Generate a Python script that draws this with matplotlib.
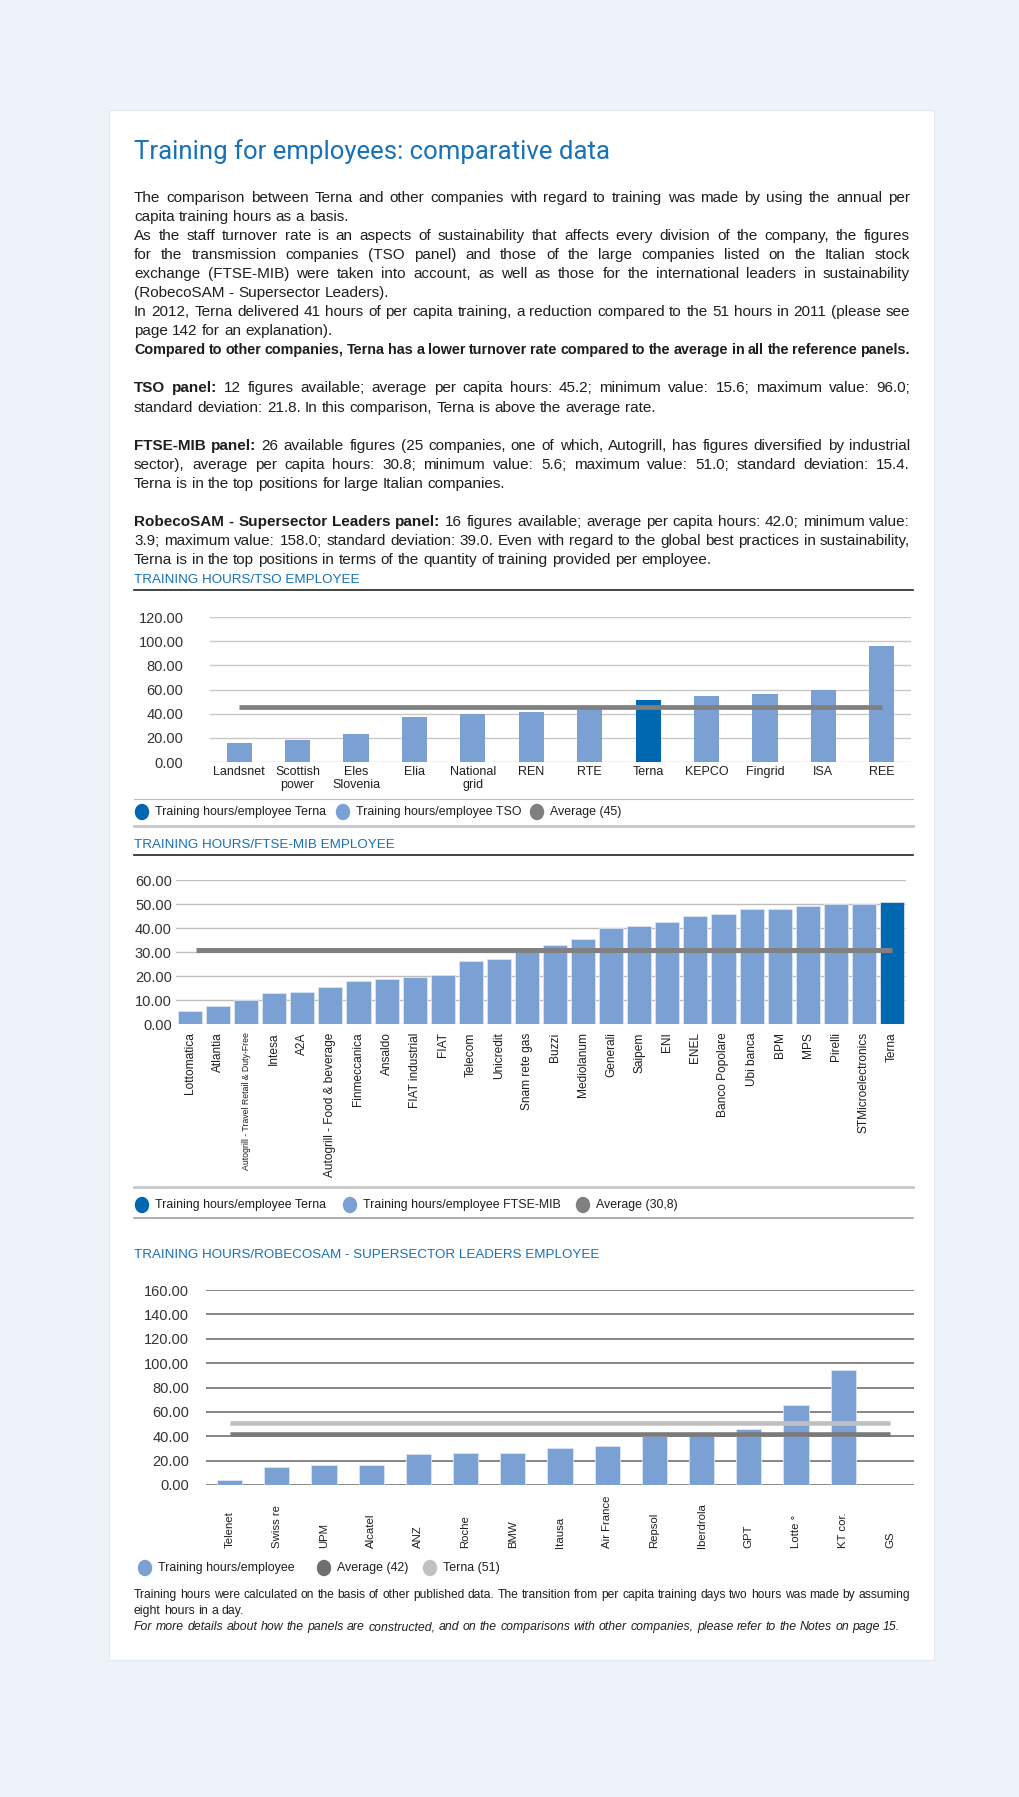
# Training hours per employee - Terna comparative page
import numpy as np
import matplotlib.pyplot as plt
from matplotlib.patches import Rectangle, Ellipse
from matplotlib.lines import Line2D

plt.rcParams['font.family'] = ['Liberation Sans', 'DejaVu Sans']

W, H = 1020, 1797

# ---- data ----
tso_names = ['Landsnet', 'Scottish\npower', 'Eles\nSlovenia', 'Elia', 'National\ngrid', 'REN',
             'RTE', 'Terna', 'KEPCO', 'Fingrid', 'ISA', 'REE']
tso_hours = [15.6, 18.4, 22.8, 37.4, 39.5, 41.5, 45.0, 51.0, 54.4, 56.6, 59.8, 96.0]
tso_avg = 45.2

mib_names = ['Lottomatica', 'Atlantia', 'Autogrill - Travel Retail & Duty-Free', 'Intesa', 'A2A',
             'Autogrill - Food & beverage', 'Finmeccanica', 'Ansaldo', 'FIAT industrial', 'FIAT',
             'Telecom', 'Unicredit', 'Snam rete gas', 'Buzzi', 'Mediolanum', 'Generali', 'Saipem',
             'ENI', 'ENEL', 'Banco Popolare', 'Ubi banca', 'BPM', 'MPS', 'Pirelli',
             'STMicroelectronics', 'Terna']
mib_hours = [5.6, 7.4, 10.0, 12.9, 13.3, 15.3, 17.9, 18.7, 19.7, 20.6, 26.3, 27.0, 30.4, 33.1,
             35.4, 40.2, 41.0, 42.4, 44.8, 45.9, 48.1, 48.1, 49.2, 49.9, 50.2, 51.0]
mib_avg = 30.8

rob_names = ['Telenet', 'Swiss re', 'UPM', 'Alcatel', 'ANZ', 'Roche', 'BMW', 'Itausa',
             'Air France', 'Repsol', 'Iberdrola', 'GPT', 'Lotte °', 'KT cor.', 'GS']
rob_hours = [3.9, 14.4, 16.4, 16.4, 25.2, 26.2, 26.2, 30.4, 32.1, 40.5, 41.0, 46.0, 65.3, 94.1, 0]
rob_avg = 42.0
rob_terna = 51.0

BLUE_T = '#1671b8'
TERNA = '#0067b1'
LIGHT = '#7ba0d4'
GREY = '#808080'
LGREY = '#c0c0c0'
TXT = '#1e1e1e'

fig = plt.figure(figsize=(W / 100, H / 100), dpi=100)
fig.patch.set_facecolor('#eef2f9')
renderer = fig.canvas.get_renderer()


def px(x, y):
    return x / W, 1 - y / H


def rule(y, x0=134, x1=913, color='#222222', lw=1.0):
    fig.add_artist(Line2D([x0 / W, x1 / W], [1 - y / H] * 2, transform=fig.transFigure,
                          color=color, lw=lw))


def text_line(y, parts, size=11.0, justify=False, x0=134, x1=910, color=TXT):
    # parts: list of (text, weight, style); y is the baseline in pixels
    y = round(y)
    words = []
    for txt, weight, style in parts:
        for w in txt.split():
            words.append((w, weight, style))
    while True:
        objs = [fig.text(0, 0, w, fontsize=size, fontweight=wt, fontstyle=st, color=color,
                         va='baseline') for w, wt, st in words]
        widths = [t.get_window_extent(renderer).width for t in objs]
        space = size / 72 * 100 * 0.278
        if justify and len(objs) > 1:
            space = (x1 - x0 - sum(widths)) / (len(objs) - 1)
            if space < 2.6:
                for t in objs:
                    t.remove()
                size *= 0.98
                continue
        break
    x = x0
    for t, wd in zip(objs, widths):
        t.set_position(px(x, y))
        x += wd + space


def legend_item(x, y, color, label, size=8.9):
    fig.add_artist(Ellipse(px(x, y), 13 / W, 15 / H, transform=fig.transFigure, color=color))
    fig.text((x + 13) / W, 1 - y / H, label, fontsize=size, va='center', color=TXT)


def style_axis(ax, grid_color, grid_lw):
    ax.grid(axis='y', color=grid_color, lw=grid_lw, zorder=0)
    ax.set_axisbelow(True)
    for s in ax.spines.values():
        s.set_visible(False)


# ---- card ----
fig.add_artist(Rectangle((109 / W, 1 - 1660 / H), (934 - 109) / W, (1660 - 110) / H,
                         transform=fig.transFigure, facecolor='white', edgecolor='#e2e6ee',
                         lw=0.8, zorder=-5))

fig.text(134 / W, 1 - 152 / H, 'Training for employees: comparative data', fontsize=18.5,
         color=BLUE_T, va='center', family=['Roboto', 'Liberation Sans'])

body = [
    (0, [('The comparison between Terna and other companies with regard to training was made by using the annual per', 'normal', 'normal')], True),
    (1, [('capita training hours as a basis.', 'normal', 'normal')], False),
    (2, [('As the staff turnover rate is an aspects of sustainability that affects every division of the company, the figures', 'normal', 'normal')], True),
    (3, [('for the transmission companies (TSO panel) and those of the large companies listed on the Italian stock', 'normal', 'normal')], True),
    (4, [('exchange (FTSE-MIB) were taken into account, as well as those for the international leaders in sustainability', 'normal', 'normal')], True),
    (5, [('(RobecoSAM - Supersector Leaders).', 'normal', 'normal')], False),
    (6, [('In 2012, Terna delivered 41 hours of per capita training, a reduction compared to the 51 hours in 2011 (please see', 'normal', 'normal')], True),
    (7, [('page 142 for an explanation).', 'normal', 'normal')], False),
    (8, [('Compared to other companies, Terna has a lower turnover rate compared to the average in all the reference panels.', 'bold', 'normal')], True),
    (10, [('TSO panel:', 'bold', 'normal'), ('12 figures available; average per capita hours: 45.2; minimum value: 15.6; maximum value: 96.0;', 'normal', 'normal')], True),
    (11, [('standard deviation: 21.8. In this comparison, Terna is above the average rate.', 'normal', 'normal')], False),
    (13, [('FTSE-MIB panel:', 'bold', 'normal'), ('26 available figures (25 companies, one of which, Autogrill, has figures diversified by industrial', 'normal', 'normal')], True),
    (14, [('sector), average per capita hours: 30.8; minimum value: 5.6; maximum value: 51.0; standard deviation: 15.4.', 'normal', 'normal')], True),
    (15, [('Terna is in the top positions for large Italian companies.', 'normal', 'normal')], False),
    (17, [('RobecoSAM - Supersector Leaders panel:', 'bold', 'normal'), ('16 figures available; average per capita hours: 42.0; minimum value:', 'normal', 'normal')], True),
    (18, [('3.9; maximum value: 158.0; standard deviation: 39.0. Even with regard to the global best practices in sustainability,', 'normal', 'normal')], True),
    (19, [('Terna is in the top positions in terms of the quantity of training provided per employee.', 'normal', 'normal')], False),
]
for slot, parts, just in body:
    text_line(197 + 5 + slot * 19.05, parts, justify=just)

# ---- TSO chart ----
fig.text(134 / W, 1 - 580 / H, 'TRAINING HOURS/TSO EMPLOYEE', fontsize=9.6, color=BLUE_T, va='center')
rule(590, lw=1.2)

ax1 = fig.add_axes([210 / W, 1 - 762 / H, (911 - 210) / W, (762 - 617) / H])
x1 = np.arange(len(tso_names))
ax1.bar(x1, tso_hours, width=0.43, color=[TERNA if n == 'Terna' else LIGHT for n in tso_names], zorder=2)
ax1.plot([0, len(tso_names) - 1], [tso_avg, tso_avg], color=GREY, lw=3.4, zorder=3, solid_capstyle='butt')
ax1.set_xlim(-0.5, len(tso_names) - 0.5)
ax1.set_ylim(0, 120)
ax1.set_yticks(np.arange(0, 121, 20))
ax1.set_yticklabels([f'{v:.2f}' for v in np.arange(0, 121, 20)], fontsize=10.5, color='#333333')
ax1.set_xticks(x1)
ax1.set_xticklabels(tso_names, fontsize=9, linespacing=1.05, color=TXT)
ax1.tick_params(axis='y', length=0, pad=19)
ax1.tick_params(axis='x', length=0, pad=3)
style_axis(ax1, '#c8c8c8', 1)

rule(799, color='#bbbbbb', lw=0.8)
legend_item(142, 812, TERNA, 'Training hours/employee Terna')
legend_item(343, 812, LIGHT, 'Training hours/employee TSO')
legend_item(537, 812, GREY, 'Average (45)')
rule(826, color='#c8c8c8', lw=2)

# ---- FTSE-MIB chart ----
fig.text(134 / W, 1 - 845 / H, 'TRAINING HOURS/FTSE-MIB EMPLOYEE', fontsize=9.6, color=BLUE_T, va='center')
rule(855, lw=1.2)

ax2 = fig.add_axes([176 / W, 1 - 1024 / H, (906 - 176) / W, (1024 - 880) / H])
x2 = np.arange(len(mib_names))
ax2.bar(x2, mib_hours, width=0.86, color=[TERNA if n == 'Terna' else LIGHT for n in mib_names],
        edgecolor='#dbe5f3', lw=0.6, zorder=2)
ax2.plot([0.2, len(mib_names) - 1], [mib_avg, mib_avg], color=GREY, lw=3.6, zorder=3, solid_capstyle='butt')
ax2.set_xlim(-0.5, len(mib_names) - 0.5)
ax2.set_ylim(0, 60)
ax2.set_yticks(np.arange(0, 61, 10))
ax2.set_yticklabels([f'{v:.2f}' for v in np.arange(0, 61, 10)], fontsize=10.5, color='#333333')
ax2.set_xticks(x2)
ax2.set_xticklabels(mib_names, fontsize=8.6, rotation=90, color=TXT)
ax2.get_xticklabels()[2].set_fontsize(6.3)
ax2.tick_params(axis='y', length=0, pad=3)
ax2.tick_params(axis='x', length=0, pad=6)
style_axis(ax2, '#bdbdbd', 1)

rule(1187, color='#c8c8c8', lw=2)
legend_item(142, 1205, TERNA, 'Training hours/employee Terna')
legend_item(350, 1205, LIGHT, 'Training hours/employee FTSE-MIB')
legend_item(583, 1205, GREY, 'Average (30,8)')
rule(1218, color='#a0a0a0', lw=1.2)

# ---- RobecoSAM chart ----
fig.text(134 / W, 1 - 1255 / H, 'TRAINING HOURS/ROBECOSAM - SUPERSECTOR LEADERS EMPLOYEE', fontsize=9.6,
         color=BLUE_T, va='center')

ax3 = fig.add_axes([206 / W, 1 - 1485 / H, (914 - 206) / W, (1485 - 1290) / H])
x3 = np.arange(len(rob_names))
ax3.bar(x3, rob_hours, width=0.53, color=LIGHT, edgecolor='#dbe5f3', lw=0.6, zorder=2)
ax3.plot([0, len(rob_names) - 1], [rob_terna, rob_terna], color=LGREY, lw=3.3, zorder=3, solid_capstyle='butt')
ax3.plot([0, len(rob_names) - 1], [rob_avg, rob_avg], color='#7a7a7a', lw=3.3, zorder=3, solid_capstyle='butt')
ax3.set_xlim(-0.5, len(rob_names) - 0.5)
ax3.set_ylim(0, 160)
ax3.set_yticks(np.arange(0, 161, 20))
ax3.set_yticklabels([f'{v:.2f}' for v in np.arange(0, 161, 20)], fontsize=10.5, color='#333333')
ax3.set_xticks([])
ax3.tick_params(axis='y', length=0, pad=12)
style_axis(ax3, '#666666', 1.1)
lab_y = -(1548 - 1485) / (1485 - 1290)
for i, n in enumerate(rob_names):
    ax3.text(i, lab_y, n, transform=ax3.get_xaxis_transform(), rotation=90, ha='center', va='bottom',
             fontsize=8.2, color=TXT)

legend_item(145, 1568, LIGHT, 'Training hours/employee')
legend_item(324, 1568, '#6f6f6f', 'Average (42)')
legend_item(430, 1568, LGREY, 'Terna (51)')

text_line(1598, [('Training hours were calculated on the basis of other published data. The transition from per capita training days two hours was made by assuming', 'normal', 'normal')], size=8.8, justify=True)
text_line(1614, [('eight hours in a day.', 'normal', 'normal')], size=8.8)
text_line(1630, [('For more details about how the panels are constructed, and on the comparisons with other companies, please refer to the Notes on page 15.', 'normal', 'italic')], size=8.8)

fig.savefig('out.png', dpi=100, facecolor=fig.get_facecolor())
